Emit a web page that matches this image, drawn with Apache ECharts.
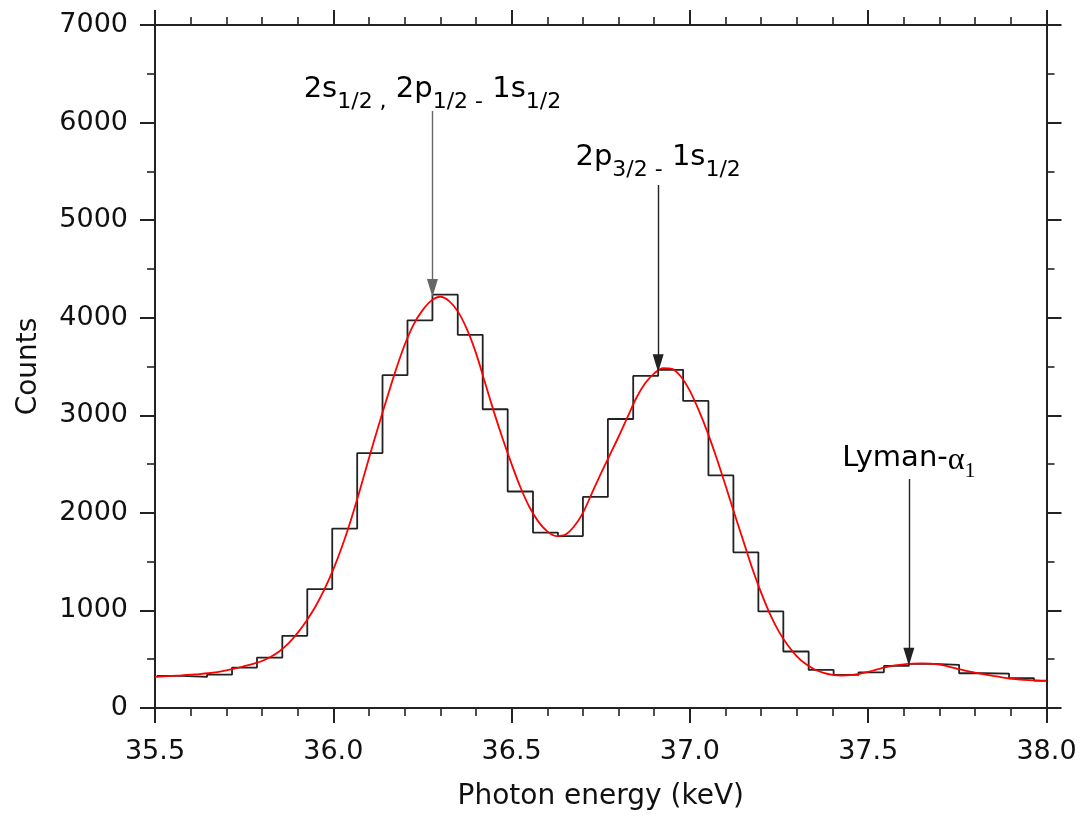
<!DOCTYPE html>
<html><head><meta charset="utf-8">
<script src="https://cdn.jsdelivr.net/npm/echarts@6/dist/echarts.min.js"></script>
<style>html,body{margin:0;padding:0;background:#fff}#c{width:1085px;height:816px}</style>
</head><body><div id="c"></div>
<script>
// Histogram bin edges (keV) and counts per bin
const binEdges = [35.505,35.575,35.646,35.716,35.786,35.857,35.927,35.997,36.067,36.138,
  36.208,36.278,36.349,36.419,36.489,36.560,36.630,36.700,36.770,36.841,
  36.911,36.981,37.052,37.122,37.192,37.262,37.333,37.403,37.473,37.544,
  37.614,37.684,37.755,37.825,37.895,37.965,38.000];
const binCounts = [330,318,342,414,517,740,1219,1839,2613,3411,
  3973,4236,3825,3062,2219,1798,1762,2163,2962,3403,
  3466,3147,2384,1596,990,579,390,339,366,431,
  452,442,356,353,305,281];
// Fitted curve, every 0.025 keV
const fitX = [35.500,35.525,35.550,35.575,35.600,35.625,35.650,35.675,35.700,35.725,
  35.750,35.775,35.800,35.825,35.850,35.875,35.900,35.925,35.950,35.975,
  36.000,36.025,36.050,36.075,36.100,36.125,36.150,36.175,36.200,36.225,
  36.250,36.275,36.300,36.325,36.350,36.375,36.400,36.425,36.450,36.475,
  36.500,36.525,36.550,36.575,36.600,36.625,36.650,36.675,36.700,36.725,
  36.750,36.775,36.800,36.825,36.850,36.875,36.900,36.925,36.950,36.975,
  37.000,37.025,37.050,37.075,37.100,37.125,37.150,37.175,37.200,37.225,
  37.250,37.275,37.300,37.325,37.350,37.375,37.400,37.425,37.450,37.475,
  37.500,37.525,37.550,37.575,37.600,37.625,37.650,37.675,37.700,37.725,
  37.750,37.775,37.800,37.825,37.850,37.875,37.900,37.925,37.950,37.975,38.000];
const fitY = [320,325,330,335,342,348,356,368,385,405,
  428,452,482,525,585,665,770,895,1040,1215,
  1420,1660,1935,2240,2560,2870,3170,3460,3720,3930,
  4075,4175,4215,4170,4060,3880,3640,3340,3040,2760,
  2500,2260,2060,1910,1810,1762,1775,1860,2000,2200,
  2400,2590,2780,2980,3180,3330,3430,3484,3475,3395,
  3250,3050,2820,2560,2280,1990,1710,1430,1180,960,
  780,640,530,450,395,360,340,333,336,350,
  370,395,418,436,448,455,458,455,445,425,
  402,380,362,346,330,315,302,292,285,280,277];
// Annotations (data coordinates)
const annotX = [36.278, 36.911, 37.614];
const annotTextY = [6290, 5595, 2510];
const arrowTop = [6119, 5360, 2347];
const arrowTip = [4305, 3533, 526];
const annotText = [
  '{m|2s}{s|1/2 ,}{m| 2p}{s|1/2 -}{m| 1s}{s|1/2}',
  '{m|2p}{s|3/2 -}{m| 1s}{s|1/2}',
  '{m|Lyman-}{g|α}{gs|1}'
];
const xMin = 35.5, xMax = 38.0, xStep = 0.5;
const yMin = 0, yMax = 7000, yStep = 1000;

const histData = [];
for (let i = 0; i < binCounts.length; i++) {
  histData.push([binEdges[i], binCounts[i]], [binEdges[i + 1], binCounts[i]]);
}
const fitData = fitX.map((x, i) => [x, fitY[i]]);

const FONT = 'DejaVu Sans';
const axisCol = '#222';
function xAx(pos, labels) {
  return {
    type: 'value', min: xMin, max: xMax, interval: xStep, position: pos,
    axisLine: { show: true, onZero: false, lineStyle: { color: axisCol, width: 2 } },
    axisTick: { show: true, inside: false, length: 15, lineStyle: { color: axisCol, width: 2 } },
    minorTick: { show: true, splitNumber: 5, length: 8, lineStyle: { color: axisCol, width: 1.6 } },
    splitLine: { show: false }, minorSplitLine: { show: false },
    axisLabel: labels ? { show: true, margin: 30, fontSize: 27, fontFamily: FONT, color: '#111',
      formatter: v => v.toFixed(1) } : { show: false },
    name: labels ? 'Photon energy (keV)' : '', nameLocation: 'middle', nameGap: 75,
    nameTextStyle: { fontSize: 28, fontFamily: FONT, color: '#111' }
  };
}
function yAx(pos, labels) {
  return {
    type: 'value', min: yMin, max: yMax, interval: yStep, position: pos,
    axisLine: { show: true, onZero: false, lineStyle: { color: axisCol, width: 2 } },
    axisTick: { show: true, inside: false, length: 15, lineStyle: { color: axisCol, width: 2 } },
    minorTick: { show: true, splitNumber: 2, length: 8, lineStyle: { color: axisCol, width: 1.6 } },
    splitLine: { show: false }, minorSplitLine: { show: false },
    axisLabel: labels ? { show: true, margin: 27, fontSize: 27, fontFamily: FONT, color: '#111',
      formatter: v => String(v) } : { show: false },
    name: labels ? 'Counts' : '', nameLocation: 'middle', nameGap: 112, nameRotate: 90,
    nameTextStyle: { fontSize: 28, fontFamily: FONT, color: '#111' }
  };
}

const chart = echarts.init(document.getElementById('c'), null, { renderer: 'canvas' });
chart.setOption({
  animation: false,
  backgroundColor: '#fff',
  grid: { left: 155, right: 38.5, top: 25, bottom: 108, containLabel: false },
  xAxis: [xAx('bottom', true), xAx('top', false)],
  yAxis: [yAx('left', true), yAx('right', false)],
  series: [
    {
      type: 'line', data: histData, symbol: 'none', z: 2,
      lineStyle: { color: '#222', width: 1.8 },
      markLine: {
        silent: true, symbol: ['none', 'triangle'], symbolSize: [11, 18], animation: false,
        label: { show: false },
        itemStyle: { color: '#111' },
        lineStyle: { color: '#222', width: 1.4, type: 'solid' },
        data: annotX.map((x, i) => [
          { coord: [x, arrowTop[i]], lineStyle: { color: i === 0 ? '#666' : '#222' } },
          { coord: [x, arrowTip[i]] }
        ])
      }
    },
    {
      type: 'line', data: fitData, symbol: 'none', smooth: 0.3, z: 3,
      lineStyle: { color: '#ff0000', width: 1.8 }
    },
    {
      type: 'scatter', data: annotX.map((x, i) => [x, annotTextY[i]]),
      symbolSize: 1, itemStyle: { color: 'rgba(0,0,0,0)', opacity: 1 }, silent: true, z: 5,
      label: {
        show: true, position: 'inside', align: 'center', verticalAlign: 'middle', opacity: 1,
        formatter: p => annotText[p.dataIndex],
        rich: {
          m: { fontFamily: FONT, fontSize: 29, lineHeight: 38, verticalAlign: 'top', color: '#000' },
          s: { fontFamily: FONT, fontSize: 22, lineHeight: 16, verticalAlign: 'bottom', color: '#000' },
          g: { fontFamily: 'Liberation Serif', fontSize: 32, lineHeight: 38, verticalAlign: 'top', color: '#000' },
          gs: { fontFamily: 'Liberation Serif', fontSize: 22, lineHeight: 16, verticalAlign: 'bottom', color: '#000' }
        }
      }
    }
  ]
});
</script></body></html>
